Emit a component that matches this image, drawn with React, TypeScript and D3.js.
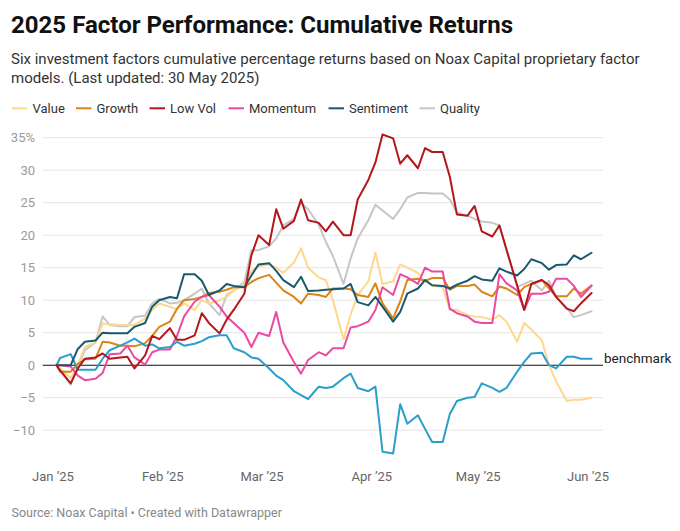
import React from 'react';
import * as d3 from 'd3';

const dates = [
  '2025-01-02','2025-01-03','2025-01-06','2025-01-08','2025-01-10','2025-01-13','2025-01-15','2025-01-17','2025-01-20','2025-01-22','2025-01-24','2025-01-27','2025-01-29','2025-01-31',
  '2025-02-03','2025-02-05','2025-02-07','2025-02-10','2025-02-12','2025-02-14','2025-02-17','2025-02-19','2025-02-21','2025-02-24','2025-02-26','2025-02-28',
  '2025-03-03','2025-03-05','2025-03-07','2025-03-10','2025-03-12','2025-03-14','2025-03-17','2025-03-19','2025-03-21','2025-03-24','2025-03-26','2025-03-28','2025-03-31',
  '2025-04-02','2025-04-04','2025-04-07','2025-04-09','2025-04-11','2025-04-14','2025-04-16','2025-04-18','2025-04-21','2025-04-23','2025-04-25','2025-04-28','2025-04-30',
  '2025-05-02','2025-05-05','2025-05-07','2025-05-09','2025-05-12','2025-05-14','2025-05-16','2025-05-19','2025-05-21','2025-05-23','2025-05-26','2025-05-28','2025-05-30',
  '2025-06-02',
];

const valueSeries = [
  0, -0.5, -2.0, 0.0, 2.8, 3.5, 6.4, 6.3, 6.2, 6.2, 6.2, 7.2, 8.5, 9.5,
  9.0, 8.6, 9.5, 8.5, 10.0, 9.5, 10.0, 10.5, 11.5, 12.4, 14.5, 15.2,
  15.5, 15.0, 14.2, 15.8, 18.0, 15.0, 13.5, 13.1, 10.0, 4.0, 7.8, 10.8, 12.9,
  17.3, 12.5, 12.9, 15.5, 15.0, 14.2, 12.9, 12.3, 12.0, 8.5, 8.5, 7.7, 7.5,
  7.4, 7.0, 7.7, 6.7, 3.6, 6.5, 5.5, 3.8, 0.0, -2.5, -5.5, -5.3, -5.3,
  -5.0,
];

const growthSeries = [
  0, -1.0, -1.0, 0.2, 0.9, 1.0, 3.6, 3.5, 3.0, 3.0, 2.9, 3.4, 4.5, 5.9,
  6.7, 8.7, 10.0, 10.2, 10.5, 11.1, 11.3, 11.6, 12.0, 12.0, 12.8, 13.4,
  13.9, 12.7, 11.5, 10.5, 9.5, 11.0, 10.8, 10.5, 11.8, 11.8, 11.7, 10.8, 10.5,
  12.6, 9.5, 7.2, 9.8, 13.1, 13.3, 13.0, 13.4, 13.4, 11.6, 12.2, 12.2, 12.4,
  11.3, 10.6, 12.1, 11.8, 10.8, 12.0, 12.5, 13.1, 11.8, 10.6, 10.6, 11.8, 11.0,
  12.3,
];

const lowVolSeries = [
  0, -0.8, -2.8, -0.5, 1.0, 1.2, 1.8, 1.0, 1.2, 1.3, -0.5, 1.5, 4.5, 4.0,
  5.7, 3.9, 3.9, 4.6, 8.0, 6.5, 4.9, 7.0, 8.5, 11.0, 16.9, 20.0,
  18.5, 24.0, 21.0, 22.2, 25.5, 22.3, 21.9, 20.6, 22.1, 20.0, 20.0, 25.5, 28.5,
  31.2, 35.5, 34.9, 31.0, 32.3, 30.3, 33.4, 32.8, 32.8, 29.0, 23.2, 23.0, 24.5,
  20.6, 19.8, 21.5, 17.8, 12.3, 8.5, 12.5, 13.1, 12.3, 10.5, 8.7, 8.3, 9.5,
  11.1,
];

const momentumSeries = [
  0, 0, -0.2, -1.6, -2.3, -2.1, -1.2, 1.7, 1.8, 3.0, 1.2, 0.1, 2.0, 2.4,
  2.4, 4.5, 7.5, 9.8, 10.5, 10.8, 9.0, 7.5, 6.5, 5.0, 2.8, 5.0,
  4.5, 8.2, 3.5, 0.5, -1.3, 0.8, 2.0, 1.5, 2.6, 2.6, 5.8, 6.0, 6.7,
  8.5, 12.0, 10.8, 14.0, 13.5, 12.5, 15.0, 14.4, 14.4, 8.7, 8.0, 7.5, 6.7,
  6.5, 6.5, 14.0, 12.6, 11.5, 8.5, 11.0, 11.0, 11.3, 13.3, 13.3, 12.2, 10.5,
  12.2,
];

const sentimentSeries = [
  0, 0, 0, 2.5, 3.6, 3.8, 5.0, 4.9, 4.9, 4.9, 5.9, 6.5, 9.0, 10.0,
  10.5, 10.3, 14.0, 14.0, 13.0, 10.8, 11.5, 12.5, 12.2, 12.0, 13.8, 15.5,
  15.7, 14.5, 13.1, 12.0, 13.6, 11.4, 11.5, 11.6, 11.7, 11.8, 12.5, 9.7, 9.2,
  10.5, 9.0, 6.7, 8.2, 11.0, 11.8, 13.1, 12.3, 12.2, 11.8, 12.4, 13.0, 13.7,
  13.2, 13.0, 14.9, 14.4, 13.8, 14.8, 16.3, 15.7, 14.7, 15.4, 15.5, 16.9, 16.3,
  17.3,
];

const qualitySeries = [
  0, -0.8, -3.0, -0.3, 2.3, 3.5, 7.5, 6.2, 6.0, 6.0, 7.4, 7.6, 9.5, 10.2,
  9.5, 9.6, 10.0, 11.0, 11.8, 9.5, 7.7, 10.8, 11.5, 12.8, 17.7, 17.7,
  18.3, 19.5, 21.5, 22.5, 25.0, 24.0, 21.6, 19.0, 16.8, 12.5, 16.4, 19.5, 22.3,
  24.7, 23.8, 22.5, 24.0, 25.8, 26.5, 26.5, 26.4, 26.4, 25.5, 23.5, 23.0, 22.5,
  22.1, 21.9, 21.5, 17.7, 12.0, 12.5, 13.0, 11.5, 13.0, 10.5, 8.8, 7.4, 7.7,
  8.3,
];

const otherSeries = [
  0, 1.1, 1.7, -0.7, -0.7, -0.7, 1.0, 2.3, 3.0, 3.5, 4.1, 3.0, 3.2, 2.6,
  2.8, 3.6, 3.0, 3.3, 3.7, 4.3, 4.6, 4.6, 2.6, 2.0, 1.2, 1.0,
  -0.5, -1.6, -2.3, -4.0, -4.6, -5.2, -3.3, -3.5, -3.3, -2.0, -1.3, -3.5, -4.0,
  -3.3, -13.3, -13.6, -6.0, -9.0, -7.7, -9.8, -11.8, -11.8, -7.5, -5.5, -5.0, -4.9,
  -2.8, -3.5, -4.1, -3.5, -1.0, 0.5, 1.8, 1.9, 0.0, -0.5, 1.3, 1.3, 1.0,
  1.0,
];

const seriesNames = ['Value', 'Growth', 'Low Vol', 'Momentum', 'Sentiment', 'Quality'];
const seriesColors = ['#fdd88e', '#dc8415', '#b5161e', '#ec4aa0', '#19596d', '#c6c6c6'];
const otherColor = '#2b9fc9';

const yTicks = [-10, -5, 0, 5, 10, 15, 20, 25, 30, 35];
const xTickDates = ['2025-01-01', '2025-02-01', '2025-03-01', '2025-04-01', '2025-05-01', '2025-06-01'];
const xTickLabels = ['Jan ’25', 'Feb ’25', 'Mar ’25', 'Apr ’25', 'May ’25', 'Jun ’25'];

const titleText = '2025 Factor Performance: Cumulative Returns';
const subtitleLines = [
  'Six investment factors cumulative percentage returns based on Noax Capital proprietary factor',
  'models. (Last updated: 30 May 2025)',
];
const footerText = 'Source: Noax Capital • Created with Datawrapper';
const benchmarkLabel = 'benchmark';

const FONT = 'Roboto, "Noto Sans", sans-serif';

export default function App() {
  const W = 680;
  const H = 531;
  const parse = d3.timeParse('%Y-%m-%d');
  const parsedDates = dates.map((d) => parse(d) as Date);

  const x = d3
    .scaleTime()
    .domain([parse('2025-01-01') as Date, parse('2025-06-01') as Date])
    .range([53, 588]);
  const y = d3.scaleLinear().domain([0, 35]).range([365.2, 137.7]);

  const gridX0 = 42.7;
  const gridX1 = 603;

  const line = d3
    .line<number>()
    .x((_, i) => x(parsedDates[i]))
    .y((v) => y(v))
    .curve(d3.curveLinear);

  const drawOrder: { data: number[]; color: string }[] = [
    { data: qualitySeries, color: seriesColors[5] },
    { data: valueSeries, color: seriesColors[0] },
    { data: growthSeries, color: seriesColors[1] },
    { data: momentumSeries, color: seriesColors[3] },
    { data: otherSeries, color: otherColor },
    { data: sentimentSeries, color: seriesColors[4] },
    { data: lowVolSeries, color: seriesColors[2] },
  ];

  const legendLineX = [12, 76, 149.5, 228.5, 328.5, 419.5];
  const legendY = 108.3;

  const fmtTick = (v: number, i: number) => {
    const s = v < 0 ? '\u2212' + Math.abs(v) : String(v);
    return i === yTicks.length - 1 ? s + '%' : s;
  };

  return (
    <svg
      width={W}
      height={H}
      style={{ position: 'absolute', left: 0, top: 0, background: '#fff' }}
      fontFamily={FONT}
    >
      <rect width={W} height={H} fill="#fff" />
      <text x={11} y={33} fontSize={23} fontWeight={700} fill="#111" textLength={502} lengthAdjust="spacingAndGlyphs">
        {titleText}
      </text>
      {subtitleLines.map((t, i) => (
        <text key={i} x={11} y={64 + i * 18.6} fontSize={15} fill="#333">
          {t}
        </text>
      ))}

      {seriesNames.map((name, i) => (
        <g key={name}>
          <line
            x1={legendLineX[i]}
            x2={legendLineX[i] + 15.5}
            y1={legendY}
            y2={legendY}
            stroke={seriesColors[i]}
            strokeWidth={2}
          />
          <text x={legendLineX[i] + 20.5} y={legendY + 4.6} fontSize={13} fill="#333">
            {name}
          </text>
        </g>
      ))}

      {yTicks.map((t, i) => (
        <g key={t}>
          {t !== 0 && (
            <line x1={gridX0} x2={gridX1} y1={y(t)} y2={y(t)} stroke="#e6e6e6" strokeWidth={1} />
          )}
          <text x={35} y={y(t) + 4.6} fontSize={13} fill="#9a9a9a" textAnchor="end">
            {fmtTick(t, i)}
          </text>
        </g>
      ))}

      {xTickDates.map((d, i) => (
        <text
          key={d}
          x={x(parse(d) as Date)}
          y={481}
          fontSize={13}
          fill="#666"
          textAnchor="middle"
        >
          {xTickLabels[i]}
        </text>
      ))}

      <line x1={gridX0} x2={gridX1} y1={y(0)} y2={y(0)} stroke="#111" strokeWidth={1.1} />

      {drawOrder.map((s, i) => (
        <path
          key={i}
          d={line(s.data) || ''}
          fill="none"
          stroke={s.color}
          strokeWidth={2}
          strokeLinejoin="round"
          strokeLinecap="round"
        />
      ))}

      <text x={604} y={y(0) - 2.5} fontSize={13.5} fill="#222">
        {benchmarkLabel}
      </text>

      <text x={11.5} y={517} fontSize={12.5} fill="#888">
        {footerText}
      </text>
    </svg>
  );
}
